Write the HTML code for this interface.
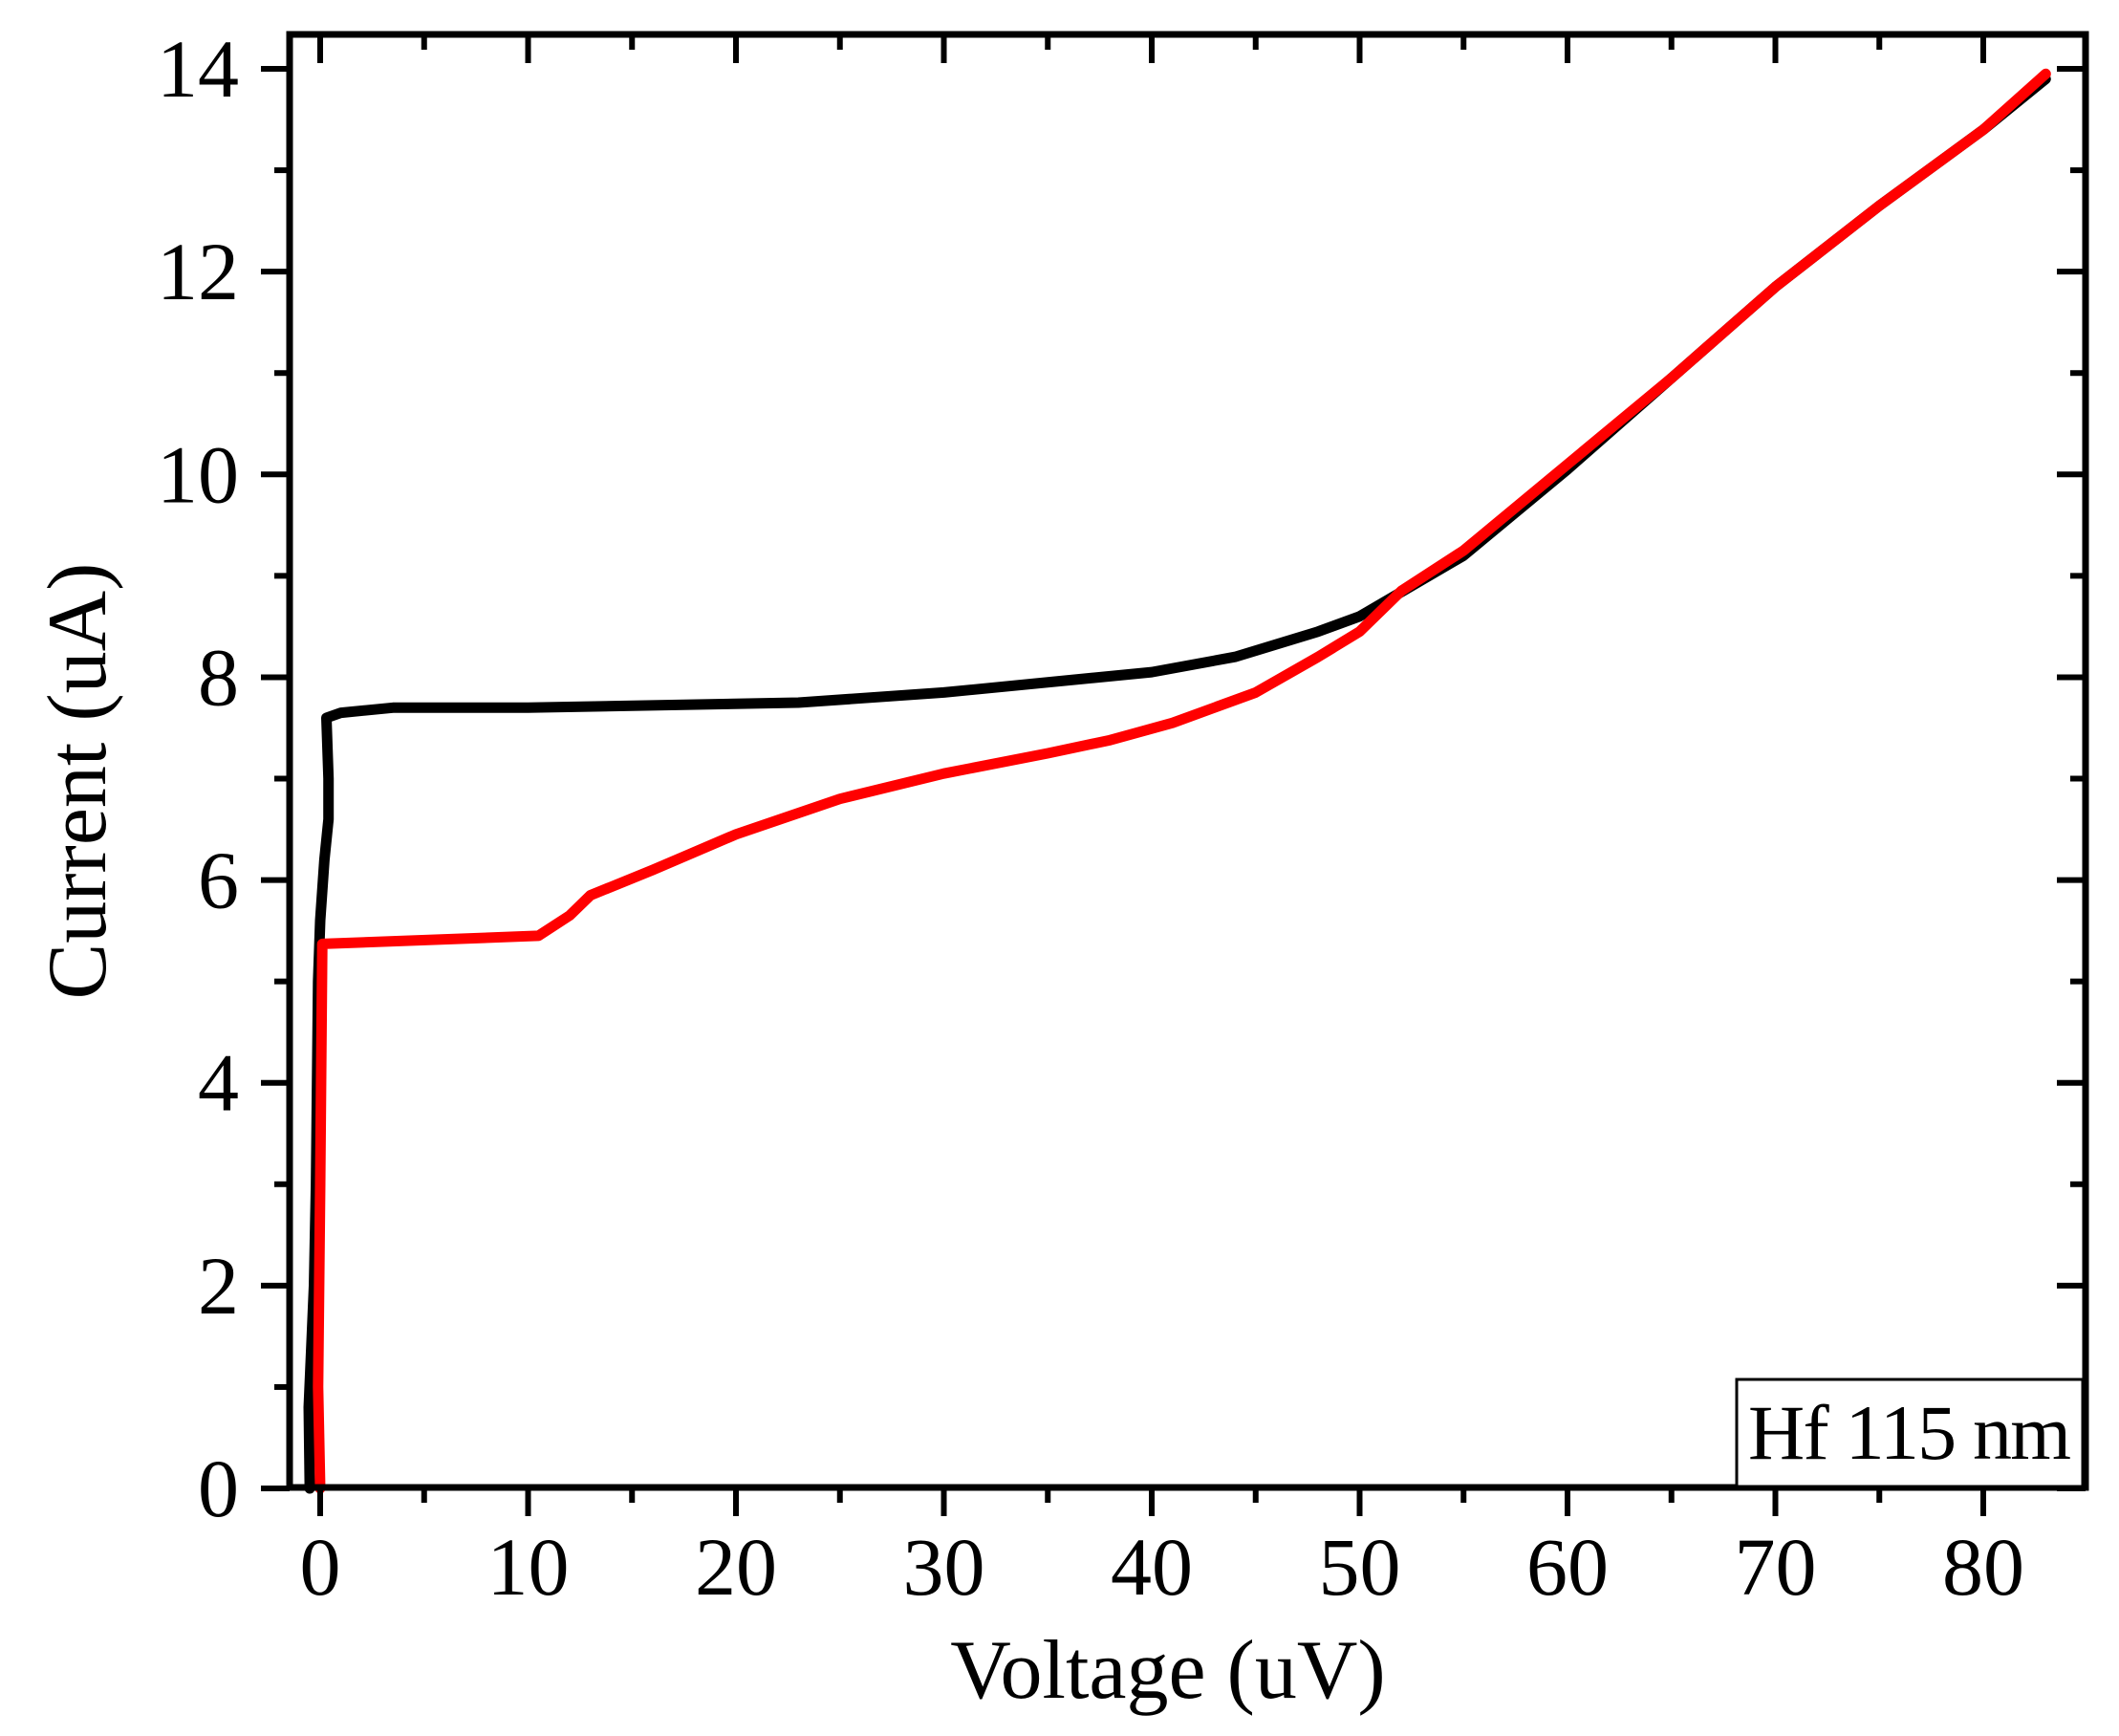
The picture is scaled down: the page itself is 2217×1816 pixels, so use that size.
<!DOCTYPE html>
<html><head><meta charset="utf-8"><style>
html,body{margin:0;padding:0;background:#fff;}
svg{display:block;font-family:"Liberation Serif",serif;}
</style></head><body>
<svg id="chart" width="2217" height="1816" viewBox="0 0 2217 1816" xmlns="http://www.w3.org/2000/svg">
<g id="marks"></g>
<g id="axes"></g>
<text x="1222" y="1776" font-size="88" text-anchor="middle">Voltage (uV)</text>
<text transform="translate(110,817) rotate(-90)" font-size="88" text-anchor="middle">Current (uA)</text>
<rect x="1817" y="1443" width="362" height="112" fill="#fff" stroke="#000" stroke-width="3"/>
<text x="1829" y="1526" font-size="82" textLength="338">Hf 115 nm</text>
</svg>
<script>
const xTicks=[0,10,20,30,40,50,60,70,80];
const yTicks=[0,2,4,6,8,10,12,14];
const blackX=[-0.5,-0.55,-0.3,-0.2,-0.15,-0.1,0,0.2,0.4,0.4,0.3,1,3.5,10,23,30,40,44,48,50,55,60,65,70,75,80,83];
const blackY=[0,0.8,2,3,4,5,5.6,6.2,6.6,7,7.6,7.65,7.7,7.7,7.75,7.85,8.05,8.2,8.45,8.6,9.2,10.05,10.95,11.85,12.65,13.4,13.9];
const redX=[0,-0.1,0,0.1,10.5,12,13,16,20,25,30,35,38,41,45,48,50,52,55,60,65,70,75,80,83];
const redY=[0,1,3,5.37,5.45,5.65,5.85,6.1,6.45,6.8,7.05,7.25,7.38,7.55,7.85,8.2,8.45,8.85,9.25,10.1,10.95,11.85,12.65,13.4,13.95];
const L=303,R=2182,T=36,B=1556;
const sx=v=>335+v*21.75;
const sy=v=>1557-v*106.07;
const NS="http://www.w3.org/2000/svg";
const marks=document.getElementById('marks'),axes=document.getElementById('axes');
function mk(tag,attrs,parent){const e=document.createElementNS(NS,tag);for(const k in attrs)e.setAttribute(k,attrs[k]);parent.appendChild(e);return e;}
function series(xs,ys,color,name){
  const d=xs.map((x,i)=>(i?'L':'M')+sx(x).toFixed(1)+','+sy(ys[i]).toFixed(1)).join('');
  const p=mk('path',{d:d,fill:'none',stroke:color,'stroke-width':11,'stroke-linejoin':'round','stroke-linecap':'round'},marks);
  
  
}
series(blackX,blackY,'#000','black-series');
series(redX,redY,'#ff0000','red-series');
const frame=mk('rect',{x:L,y:T,width:R-L,height:B-T,fill:'none',stroke:'#000','stroke-width':7},axes);


for(let v=0;v<=80;v+=5){
  const x=sx(v),maj=v%10===0,len=maj?30:16;
  mk('line',{x1:x,x2:x,y1:B,y2:B+len,stroke:'#000','stroke-width':6},axes);
  mk('line',{x1:x,x2:x,y1:T,y2:T+len,stroke:'#000','stroke-width':6},axes);
}
for(let v=0;v<=14;v+=1){
  const y=sy(v),maj=v%2===0,len=maj?30:16;
  mk('line',{x1:L-len,x2:L,y1:y,y2:y,stroke:'#000','stroke-width':6},axes);
  mk('line',{x1:R-len,x2:R,y1:y,y2:y,stroke:'#000','stroke-width':6},axes);
}
xTicks.forEach(v=>{
  const t=mk('text',{x:sx(v),y:1668,'font-size':86,'text-anchor':'middle'},axes);
  t.textContent=v;
  
  
});
yTicks.forEach(v=>{
  const t=mk('text',{x:250,y:sy(v)+29,'font-size':86,'text-anchor':'end'},axes);
  t.textContent=v;
  
  
});
</script>
</body></html>
